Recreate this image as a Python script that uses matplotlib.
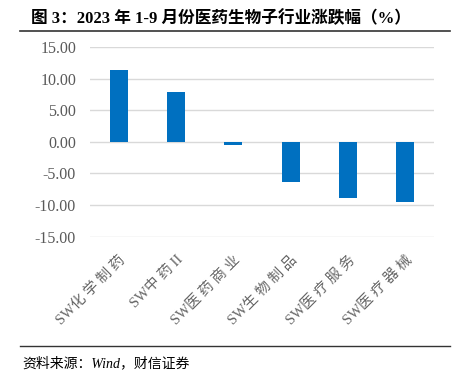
import numpy as np
import matplotlib.pyplot as plt
from matplotlib.lines import Line2D

plt.rcParams['font.family'] = ['Liberation Serif', 'Noto Sans CJK SC', 'DejaVu Sans']

categories = ['SW化 学 制 药', 'SW中 药 II', 'SW医 药 商 业', 'SW生 物 制 品', 'SW医 疗 服 务', 'SW医 疗 器 械']
changes = [11.3, 7.85, -0.45, -6.4, -8.9, -9.5]
yticks = [-15, -10, -5, 0, 5, 10, 15]

title = '图 3：2023 年 1-9 月份医药生物子行业涨跌幅（%）'
source = '资料来源：Wind，财信证券'

fig = plt.figure(figsize=(4.59, 3.83), dpi=100)
ax = fig.add_axes([0.196, 0.3825, 0.7495, 0.495])

x = np.arange(len(categories))
ax.bar(x, changes, width=0.31, color='#0070C0', zorder=3)

ax.set_xlim(-0.5, len(categories) - 0.5)
ax.set_ylim(-15, 15)
ax.set_yticks(yticks)
ax.set_yticklabels(['%.2f' % v for v in yticks], fontsize=11.5, color='#595959')
ax.grid(axis='y', color='#d9d9d9', linewidth=1.0, zorder=0)
ax.tick_params(axis='both', length=0, pad=10)
for s in ax.spines.values():
    s.set_visible(False)

ax.set_xticks(x)
ax.set_xticklabels(categories, rotation=45, ha='right', rotation_mode='anchor',
                   fontsize=10.5, color='#666666')
ax.tick_params(axis='x', pad=12)

# title and rules
fig.text(0.068, 0.952, title, fontsize=12, fontweight='bold', va='center', ha='left')
fig.add_artist(Line2D([0.044, 0.98], [0.918, 0.918], color='#333333', linewidth=1.2))
fig.add_artist(Line2D([0.044, 0.98], [0.097, 0.097], color='#333333', linewidth=1.0))
fig.text(0.048, 0.05, source, fontsize=10, style='italic', va='center', ha='left')

fig.savefig('out.png', dpi=100)
plt.close(fig)
